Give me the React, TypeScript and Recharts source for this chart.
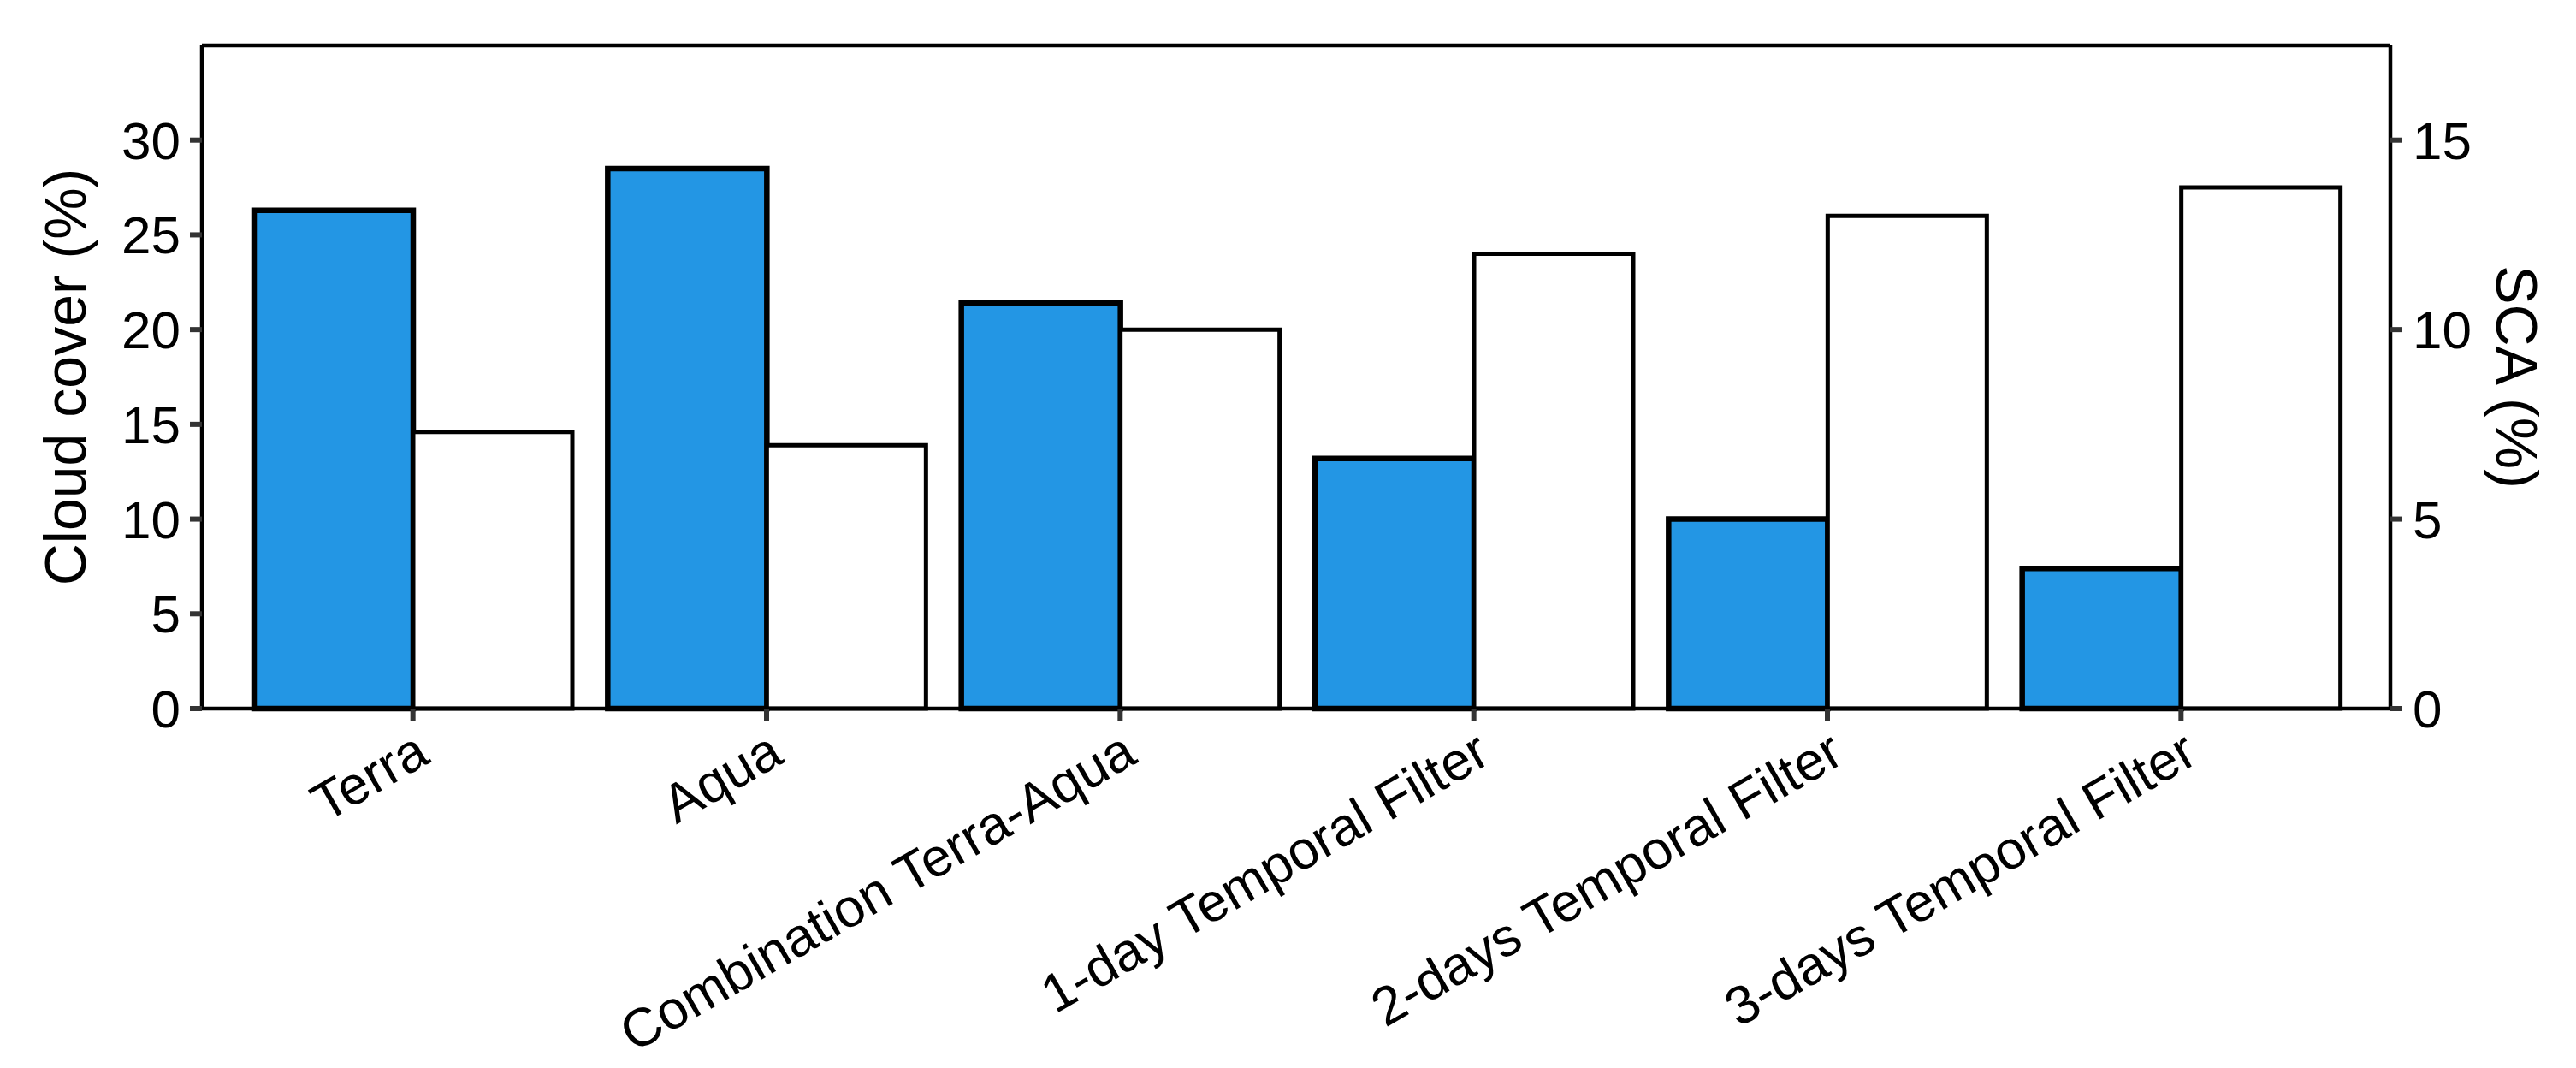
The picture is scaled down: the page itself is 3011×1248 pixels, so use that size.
import { BarChart, Bar, XAxis, YAxis, ReferenceLine } from 'recharts';

const FONT = '"Liberation Sans", Arial, Helvetica, sans-serif';

const categories = [
  'Terra',
  'Aqua',
  'Combination Terra-Aqua',
  '1-day Temporal Filter',
  '2-days Temporal Filter',
  '3-days Temporal Filter',
];
const cloudCover = [26.3, 28.5, 21.4, 13.2, 10.0, 7.4];
const sca = [7.3, 6.95, 10.0, 12.0, 13.0, 13.75];
const leftTicks = [0, 5, 10, 15, 20, 25, 30];
const rightTicks = [0, 5, 10, 15];

const data = categories.map((name, i) => ({ name, cloud: cloudCover[i], sca: sca[i] }));

// rotated category label, baseline end sits a little right of / below the tick
const XTick = ({ x, y, payload }: any) => {
  const tx = x + 22;
  const ty = y + 46;
  return (
    <text
      x={tx}
      y={ty}
      transform={`rotate(-30, ${tx}, ${ty})`}
      textAnchor="end"
      fontSize={63}
      fontFamily={FONT}
      fill="#000"
    >
      {payload.value}
    </text>
  );
};

const AxisTitle = ({ viewBox, value, dx, angle }: any) => {
  const cx = viewBox.x + dx;
  const cy = viewBox.y + viewBox.height / 2;
  return (
    <text
      x={cx}
      y={cy}
      transform={`rotate(${angle}, ${cx}, ${cy})`}
      textAnchor="middle"
      fontSize={68}
      fontFamily={FONT}
      fill="#000"
    >
      {value}
    </text>
  );
};

const tickStyle = { fontSize: 62, fill: '#000', fontFamily: FONT };

const App = () => {
  return (
    <div style={{ position: 'absolute', left: 0, top: 0, width: 3011, height: 1248, background: '#fff' }}>
      <BarChart
        width={3011}
        height={1248}
        data={data}
        barGap={0}
        margin={{ top: 53, right: 0, bottom: 0, left: 0 }}
      >
        <XAxis
          dataKey="name"
          height={420}
          interval={0}
          padding={{ left: 40, right: 38 }}
          tickSize={14}
          tickMargin={2}
          tick={<XTick />}
          axisLine={{ stroke: '#000', strokeWidth: 4.5 }}
          tickLine={{ stroke: '#333', strokeWidth: 6 }}
        />
        <YAxis
          yAxisId="left"
          orientation="left"
          width={236}
          domain={[0, 35]}
          ticks={leftTicks}
          interval={0}
          tickSize={14}
          tickMargin={11}
          tick={tickStyle}
          axisLine={{ stroke: '#000', strokeWidth: 4.5 }}
          tickLine={{ stroke: '#333', strokeWidth: 6 }}
          label={{ content: (p: any) => <AxisTitle viewBox={p.viewBox} value="Cloud cover (%)" dx={100} angle={-90} /> }}
        />
        <YAxis
          yAxisId="right"
          orientation="right"
          width={217}
          domain={[0, 17.5]}
          ticks={rightTicks}
          interval={0}
          tickSize={14}
          tickMargin={12}
          tick={tickStyle}
          axisLine={{ stroke: '#000', strokeWidth: 4.5 }}
          tickLine={{ stroke: '#333', strokeWidth: 6 }}
          label={{ content: (p: any) => <AxisTitle viewBox={p.viewBox} value="SCA (%)" dx={124} angle={90} /> }}
        />
        <ReferenceLine yAxisId="left" y={35} stroke="#000" strokeWidth={4.5} />
        <Bar
          yAxisId="left"
          dataKey="cloud"
          fill="#2396e4"
          stroke="#000"
          strokeWidth={6.5}
          barSize={186}
          isAnimationActive={false}
        />
        <Bar
          yAxisId="right"
          dataKey="sca"
          fill="#fff"
          stroke="#000"
          strokeWidth={5}
          barSize={186}
          isAnimationActive={false}
        />
      </BarChart>
    </div>
  );
};

export default App;
